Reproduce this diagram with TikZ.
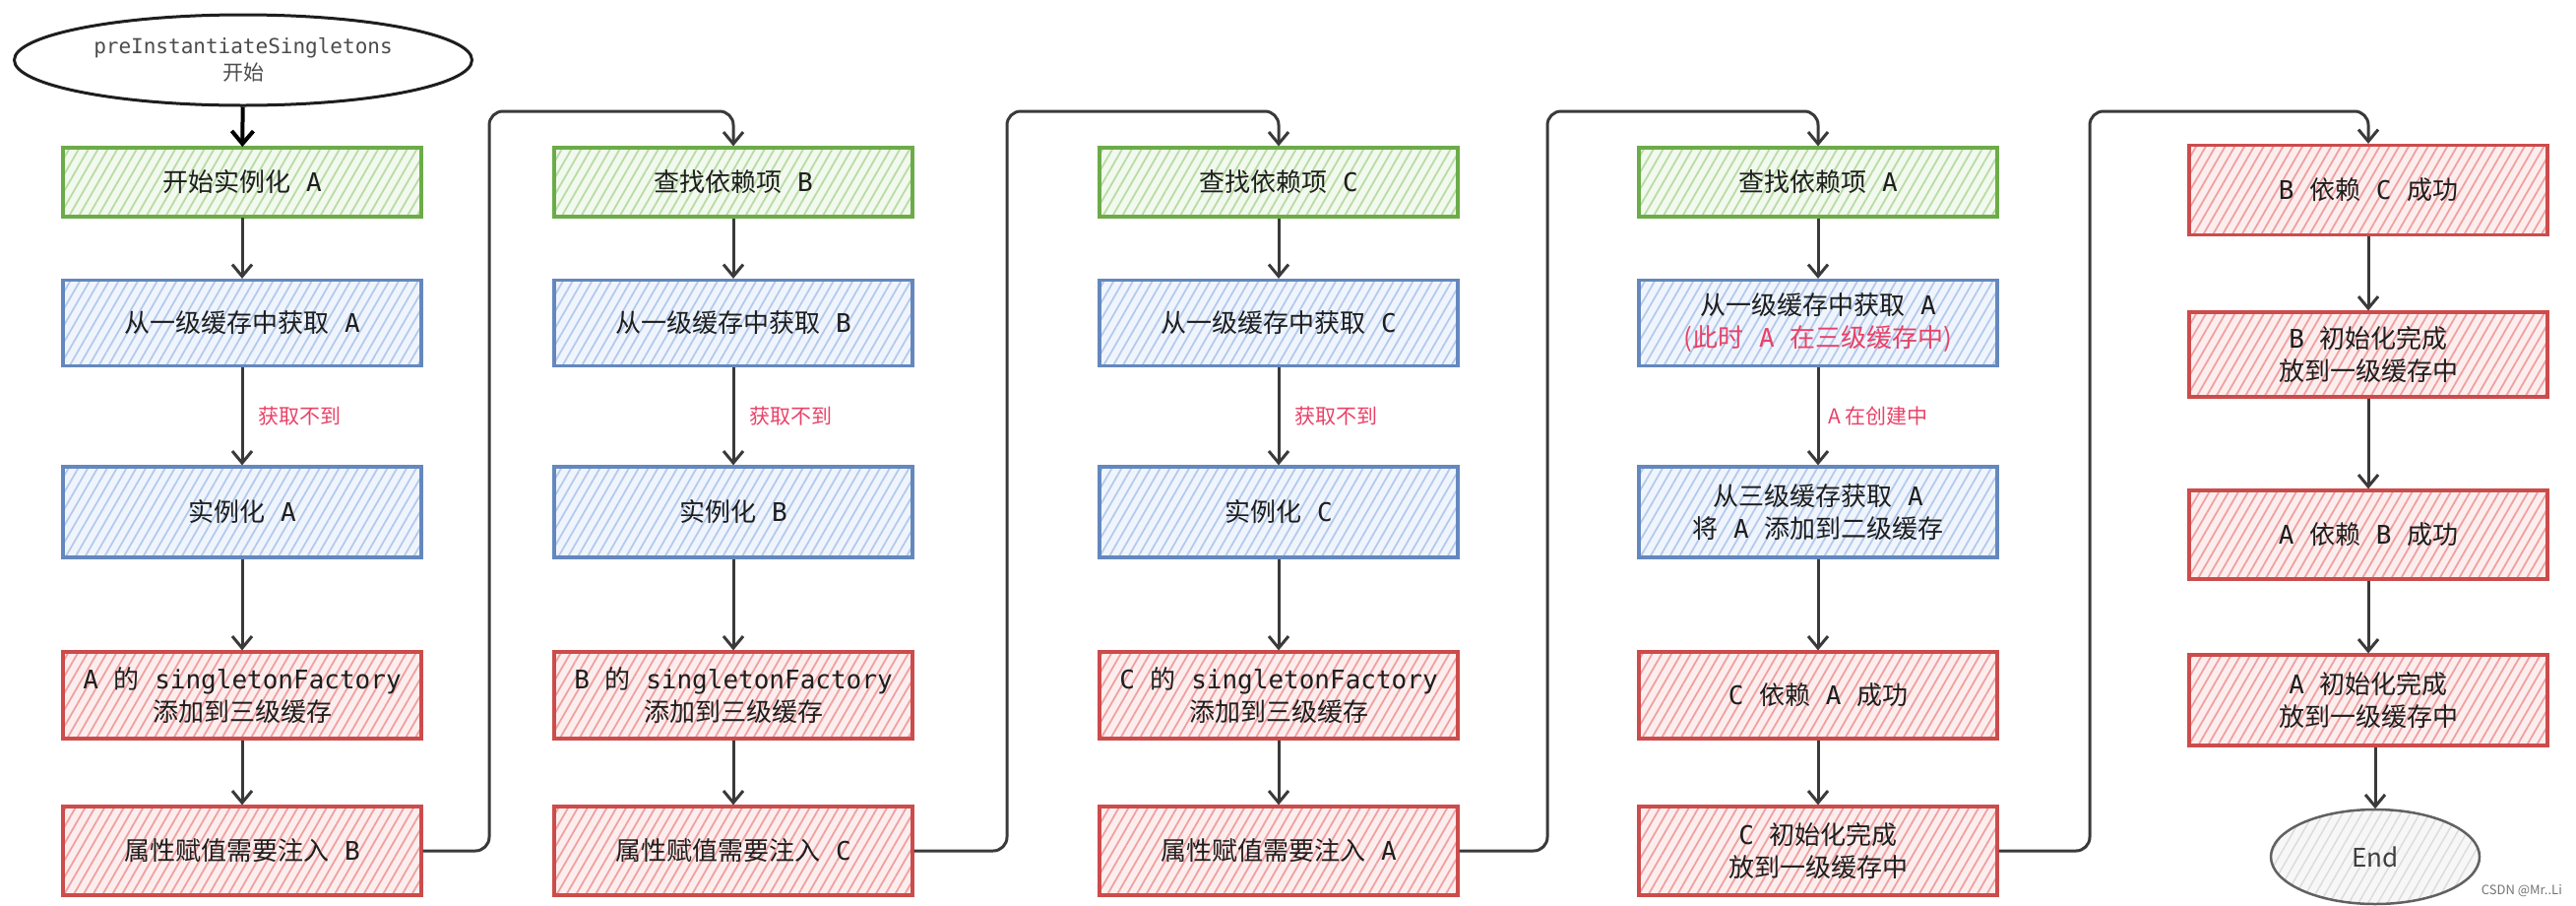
\documentclass[tikz,border=0pt]{standalone}
\usepackage{fontspec}
\setmainfont{Noto Sans CJK SC}
\newfontfamily\monof{DejaVu Sans Mono}
\usetikzlibrary{arrows.meta,patterns.meta,shapes.geometric}
\definecolor{txt}{RGB}{30,30,30}
\definecolor{lnc}{RGB}{58,58,58}
\definecolor{gline}{RGB}{108,172,72}
\definecolor{gbg}{RGB}{242,249,238}
\definecolor{ghatch}{RGB}{184,220,166}
\definecolor{bline}{RGB}{100,136,190}
\definecolor{bbg}{RGB}{240,245,253}
\definecolor{bhatch}{RGB}{180,202,236}
\definecolor{rline}{RGB}{204,76,76}
\definecolor{rbg}{RGB}{252,238,238}
\definecolor{rhatch}{RGB}{240,160,160}
\definecolor{ebg}{RGB}{247,247,247}
\definecolor{ehatch}{RGB}{220,220,220}
\definecolor{lblred}{RGB}{232,66,104}
\newcommand\lt[1]{{\monof #1}}
\tikzset{
  box/.style={rectangle, minimum width=364pt, line width=3.2pt, align=center,
    font=\fontsize{26}{33}\selectfont, text=txt, inner sep=0pt},
  gbox/.style={box, draw=gline, preaction={fill=gbg},
    pattern={Lines[angle=60,distance=8.5pt,line width=1.8pt]}, pattern color=ghatch},
  bbox/.style={box, draw=bline, preaction={fill=bbg},
    pattern={Lines[angle=60,distance=8.5pt,line width=1.8pt]}, pattern color=bhatch},
  rbox/.style={box, draw=rline, preaction={fill=rbg},
    pattern={Lines[angle=60,distance=8.5pt,line width=1.8pt]}, pattern color=rhatch},
  conn/.style={draw=lnc, line width=3pt, -{Straight Barb[length=12pt,width=20pt]}},
  elbow/.style={conn, rounded corners=14pt},
  lbl/.style={font=\fontsize{21}{24}\selectfont, text=lblred, anchor=west, inner sep=0pt},
  hA/.style={minimum height=70pt},
  hB/.style={minimum height=87pt},
  hC/.style={minimum height=92pt},
  hD/.style={minimum height=88pt},
  hE/.style={minimum height=90pt},
}
\begin{document}
\begin{tikzpicture}[x=1pt,y=-1pt]
\useasboundingbox (0,0) rectangle (2617,919);
% start
\node[ellipse, draw=txt, line width=3pt, fill=white, minimum width=465pt, minimum height=92pt,
  inner sep=0pt, align=center, text=black!70, font=\fontsize{21}{27}\selectfont]
  (start) at (247,61) {\lt{preInstantiateSingletons}\\开始};
% column 1
\node[gbox,hA] (a1) at (246,185) {开始实例化\lt{ A}};
\node[bbox,hB] (a2) at (246,328) {从一级缓存中获取\lt{ A}};
\node[bbox,hC] (a3) at (246,520) {实例化\lt{ A}};
\node[rbox,hD] (a4) at (246,706) {\lt{A }的\lt{ singletonFactory}\\添加到三级缓存};
\node[rbox,hE] (a5) at (246,864) {属性赋值需要注入\lt{ B}};
% column 2
\node[gbox,hA] (b1) at (745,185) {查找依赖项\lt{ B}};
\node[bbox,hB] (b2) at (745,328) {从一级缓存中获取\lt{ B}};
\node[bbox,hC] (b3) at (745,520) {实例化\lt{ B}};
\node[rbox,hD] (b4) at (745,706) {\lt{B }的\lt{ singletonFactory}\\添加到三级缓存};
\node[rbox,hE] (b5) at (745,864) {属性赋值需要注入\lt{ C}};
% column 3
\node[gbox,hA] (c1) at (1299,185) {查找依赖项\lt{ C}};
\node[bbox,hB] (c2) at (1299,328) {从一级缓存中获取\lt{ C}};
\node[bbox,hC] (c3) at (1299,520) {实例化\lt{ C}};
\node[rbox,hD] (c4) at (1299,706) {\lt{C }的\lt{ singletonFactory}\\添加到三级缓存};
\node[rbox,hE] (c5) at (1299,864) {属性赋值需要注入\lt{ A}};
% column 4
\node[gbox,hA] (d1) at (1847,185) {查找依赖项\lt{ A}};
\node[bbox,hB] (d2) at (1847,328) {从一级缓存中获取\lt{ A}\\{\color{lblred}(此时\lt{ A }在三级缓存中)}};
\node[bbox,hC] (d3) at (1847,520) {从三级缓存获取\lt{ A}\\将\lt{ A }添加到二级缓存};
\node[rbox,hD] (d4) at (1847,706) {\lt{C }依赖\lt{ A }成功};
\node[rbox,hE] (d5) at (1847,864) {\lt{C }初始化完成\\放到一级缓存中};
% column 5
\node[rbox,minimum height=91pt] (e1) at (2406,193) {\lt{B }依赖\lt{ C }成功};
\node[rbox,minimum height=86pt] (e2) at (2406,360) {\lt{B }初始化完成\\放到一级缓存中};
\node[rbox,minimum height=90pt] (e3) at (2406,543) {\lt{A }依赖\lt{ B }成功};
\node[rbox,minimum height=92pt] (e4) at (2406,711) {\lt{A }初始化完成\\放到一级缓存中};
\node[ellipse, draw=black!62, line width=2.5pt, preaction={fill=ebg},
  pattern={Lines[angle=60,distance=8.5pt,line width=1.5pt]}, pattern color=ehatch,
  minimum width=212pt, minimum height=96pt, inner sep=0pt, text=black!75,
  font=\fontsize{26}{30}\selectfont] (end) at (2413,870) {End};
% labels
\node[lbl] (l1) at (262,423) {获取不到};
\node[lbl] (l2) at (761,423) {获取不到};
\node[lbl] (l3) at (1315,423) {获取不到};
\node[lbl] (l4) at (1857,423) {A 在创建中};
\node[font=\fontsize{13}{15}\selectfont, text=black!55, anchor=east, inner sep=0pt] (wm) at (2603,905) {CSDN @Mr..Li};
% start arrow
\draw[draw=black, line width=4pt, -{Straight Barb[length=13pt,width=22pt]}] (start) -- (a1);
% vertical arrows
\foreach \c in {a,b,c,d,e}{
  \draw[conn] (\c1) -- (\c2);
  \draw[conn] (\c2) -- (\c3);
  \draw[conn] (\c3) -- (\c4);
}
\foreach \c in {a,b,c,d}{
  \draw[conn] (\c4) -- (\c5);
}
\draw[conn] (e4.south -| end.north) -- (end.north);
% column links
\coordinate (k1) at (497,113);
\coordinate (k2) at (1023,113);
\coordinate (k3) at (1572,113);
\coordinate (k4) at (2123,113);
\draw[elbow] (a5.east) -| (k1) -| (b1.north);
\draw[elbow] (b5.east) -| (k2) -| (c1.north);
\draw[elbow] (c5.east) -| (k3) -| (d1.north);
\draw[elbow] (d5.east) -| (k4) -| (e1.north);
\end{tikzpicture}
\end{document}
